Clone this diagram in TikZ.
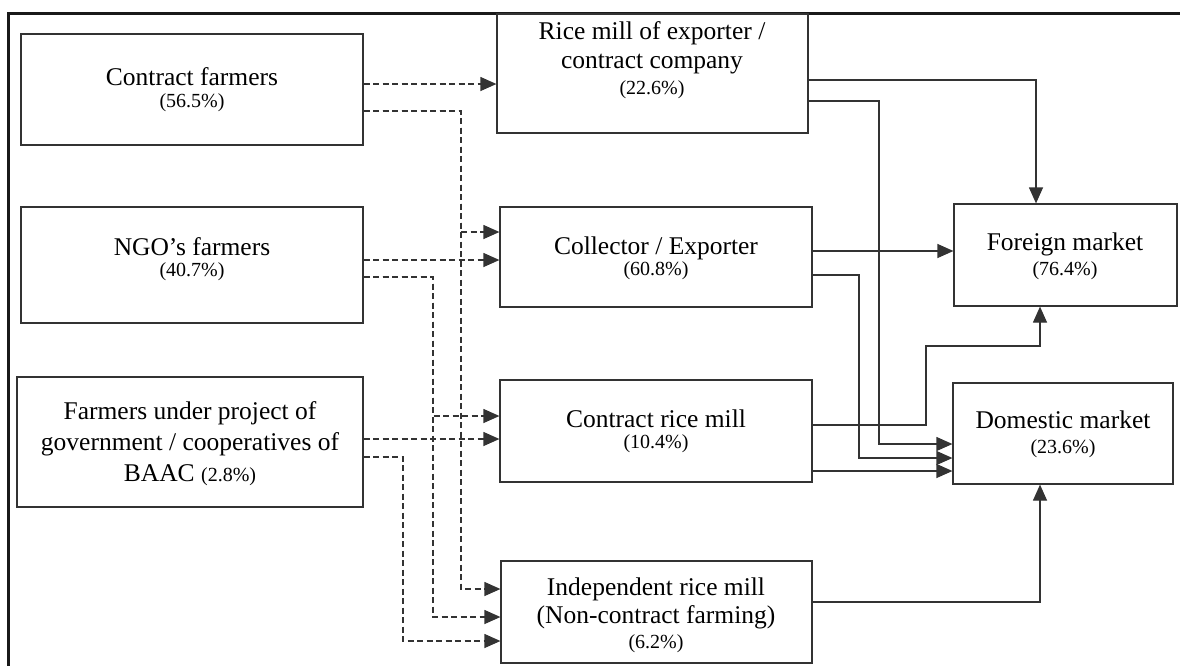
\documentclass[tikz,border=0pt]{standalone}
\usepackage{fontspec}
\setmainfont{Liberation Serif}
\usetikzlibrary{arrows.meta,fit}
\newcommand\bigtxt{\fontsize{25.5}{30}\selectfont}
\newcommand\pcttxt{\fontsize{20}{24}\selectfont}
\begin{document}
\begin{tikzpicture}[x=1pt,y=-1pt,
  stagebox/.style={draw=black!80, line width=1.2pt, inner sep=0pt},
  lbl/.style={anchor=base, inner sep=0pt, text=black},
  flow/.style={draw=black!80, line width=1.2pt, -{Triangle[length=16pt,width=14pt]}},
  dflow/.style={flow, dash pattern=on 6pt off 3.5pt}]
\useasboundingbox (0,0) rectangle (1180,665);
\clip (0,0) rectangle (1180,665);

% outer frame
\draw[line width=3pt, black!90] (8,700) -- (8,13) -- (1200,13);

% producer groups
\node[stagebox, fit={(21,34) (363,145)}] (A) {};
\node[stagebox, fit={(21,207) (363,323)}] (B) {};
\node[stagebox, fit={(17,377) (363,507)}] (C) {};
% mills and collectors
\node[stagebox, fit={(497,14) (808,133)}] (D) {};
\node[stagebox, fit={(500,207) (812,307)}] (E) {};
\node[stagebox, fit={(500,380) (812,482)}] (F) {};
\node[stagebox, fit={(501,561) (812,663)}] (G) {};
% markets
\node[stagebox, fit={(954,204) (1177,306)}] (H) {};
\node[stagebox, fit={(953,383) (1173,484)}] (I) {};

% labels
\node[lbl] (tA) at (192,85) {\parbox[t]{330pt}{\centering\bigtxt Contract farmers\\[-8pt]{\pcttxt (56.5\%)}}};
\node[lbl] (tB) at (192,255) {\parbox[t]{330pt}{\centering\bigtxt NGO’s farmers\\[-9pt]{\pcttxt (40.7\%)}}};
\node[lbl] (tC) at (190,419) {\parbox[t]{340pt}{\centering\bigtxt Farmers under project of\\[1pt]government / cooperatives of\\[1pt]BAAC {\pcttxt (2.8\%)}}};
\node[lbl] (tD) at (652,39) {\parbox[t]{300pt}{\centering\bigtxt Rice mill of exporter /\\[-1pt]contract company\\[-4pt]{\pcttxt (22.6\%)}}};
\node[lbl] (tE) at (656,254) {\parbox[t]{300pt}{\centering\bigtxt Collector / Exporter\\[-9pt]{\pcttxt (60.8\%)}}};
\node[lbl] (tF) at (656,427) {\parbox[t]{300pt}{\centering\bigtxt Contract rice mill\\[-9pt]{\pcttxt (10.4\%)}}};
\node[lbl] (tG) at (656,595) {\parbox[t]{300pt}{\centering\bigtxt Independent rice mill\\[-2pt](Non-contract farming)\\[-5pt]{\pcttxt (6.2\%)}}};
\node[lbl] (tH) at (1065,250) {\parbox[t]{210pt}{\centering\bigtxt Foreign market\\[-5pt]{\pcttxt (76.4\%)}}};
\node[lbl] (tI) at (1063,428) {\parbox[t]{210pt}{\centering\bigtxt Domestic market\\[-5pt]{\pcttxt (23.6\%)}}};

% supply from farmers (dashed)
\draw[dflow] (A.east |- 0,84) -- (D.west |- 0,84);
\draw[dflow] (A.east |- 0,111) -- (461,111) |- (E.west |- 0,232);
\draw[dflow] (A.east |- 0,111) -- (461,111) |- (G.west |- 0,589);
\draw[dflow] (B.east |- 0,260) -- (E.west |- 0,260);
\draw[dflow] (B.east |- 0,277) -- (433,277) |- (F.west |- 0,416);
\draw[dflow] (B.east |- 0,277) -- (433,277) |- (G.west |- 0,617);
\draw[dflow] (C.east |- 0,439) -- (F.west |- 0,439);
\draw[dflow] (C.east |- 0,457) -- (403,457) |- (G.west |- 0,641);

% sales to markets (solid)
\draw[flow] (D.east |- 0,80) -| (H.north -| 1036,0);
\draw[flow] (D.east |- 0,101) -- (879,101) |- (I.west |- 0,444);
\draw[flow] (E.east |- 0,251) -- (H.west |- 0,251);
\draw[flow] (E.east |- 0,275) -- (859,275) |- (I.west |- 0,458);
\draw[flow] (F.east |- 0,425) -- (926,425) |- (1040,346) -- (H.south -| 1040,0);
\draw[flow] (F.east |- 0,471) -- (I.west |- 0,471);
\draw[flow] (G.east |- 0,602) -| (I.south -| 1040,0);
\end{tikzpicture}
\end{document}
